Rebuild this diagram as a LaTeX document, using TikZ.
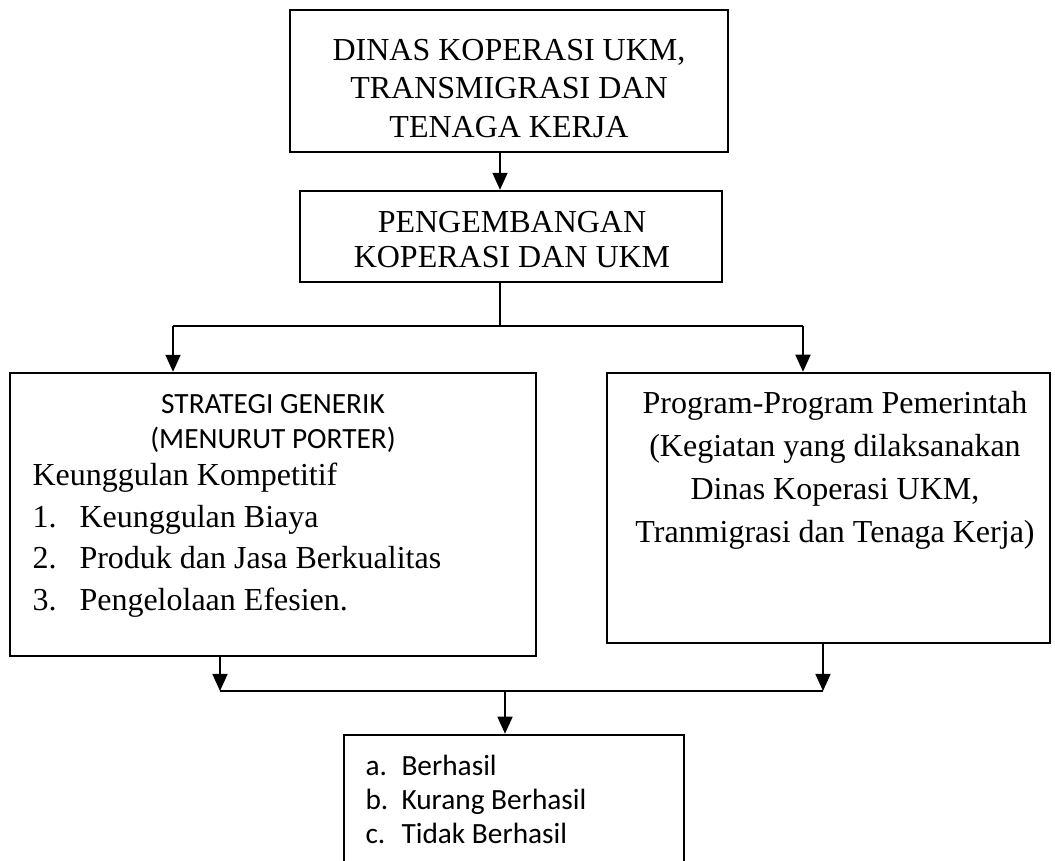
\documentclass[tikz,border=0pt]{standalone}
\usepackage{fontspec}
\setmainfont{Liberation Serif}
\newfontfamily\calibri{Carlito}
\usepackage{tikz}
\usetikzlibrary{arrows.meta}

\begin{document}
\begin{tikzpicture}[x=0.375pt,y=-0.375pt,
    kotak/.style={draw, line width=0.9pt, inner sep=0pt},
    panah/.style={line width=0.75pt, -{Triangle[length=6.4pt,width=5.6pt]}},
    garis/.style={line width=0.75pt},
    tulis/.style={inner sep=0pt, font=\fontsize{12}{14.4}\selectfont},
    tulisc/.style={inner sep=0pt, font=\calibri\fontsize{11}{13}\selectfont}]
    \useasboundingbox (0,0) rectangle (1055,861);
    \clip (0,0) rectangle (1055,861);

    % kotak-kotak
    \node[kotak, minimum width=164.25pt, minimum height=53.25pt] (dinas) at (509,81) {};
    \node[kotak, minimum width=158.25pt, minimum height=34.1pt] (kembang) at (511,236.5) {};
    \node[kotak, minimum width=197.25pt, minimum height=106.1pt] (strategi) at (273,514.5) {};
    \node[kotak, minimum width=166.1pt, minimum height=101.25pt] (program) at (828.5,508) {};
    \node[kotak, minimum width=127.5pt, minimum height=61.9pt] (hasil) at (514,817.5) {};

    % isi (base = baris terakhir)
    \node[tulis, align=center, anchor=base, font=\fontsize{12}{14.4}\selectfont] (dinasteks) at (509,137)
        {DINAS KOPERASI UKM,\\TRANSMIGRASI DAN\\TENAGA KERJA};
    \node[tulis, align=center, anchor=base, font=\fontsize{12}{13.1}\selectfont] (kembangteks) at (512,267)
        {PENGEMBANGAN\\KOPERASI DAN UKM};
    \node[tulisc, anchor=base] (judul) at (273,413) {STRATEGI GENERIK};
    \node[tulisc, anchor=base] (porter) at (273,448) {(MENURUT PORTER)};
    \node[tulis, anchor=base west] (unggul) at (32,485) {Keunggulan Kompetitif};
    \foreach \n/\t/\y in {1/Keunggulan Biaya/527, 2/Produk dan Jasa Berkualitas/568, 3/Pengelolaan Efesien./610} {
        \node[tulis, anchor=base west] (no\n) at (32,\y) {\n.};
        \node[tulis, anchor=base west] (butir\n) at (79,\y) {\t};
    }
    \node[tulis, align=center, anchor=base, font=\fontsize{12}{16.1}\selectfont] (programteks) at (835,542)
        {Program-Program Pemerintah\\(Kegiatan yang dilaksanakan\\Dinas Koperasi UKM,\\Tranmigrasi dan Tenaga Kerja)};
    \foreach \h/\t/\y in {a/Berhasil/775, b/Kurang Berhasil/809, c/Tidak Berhasil/843} {
        \node[tulisc, anchor=base west] (huruf\h) at (365,\y) {\h.};
        \node[tulisc, anchor=base west] (hasil\h) at (401,\y) {\t};
    }

    % panah
    \coordinate (pecah) at (500,326);
    \coordinate (kiri) at (173,326);
    \coordinate (kanan) at (803,326);
    \coordinate (gabung) at (505,691);
    \coordinate (kirib) at (220,691);
    \coordinate (kananb) at (823,691);
    \draw[panah] (dinas.south -| pecah) -- (kembang.north -| pecah);
    \draw[garis] (kembang.south -| pecah) -- (pecah);
    \draw[garis] (kiri) -- (kanan);
    \draw[panah] (kiri) -- (kiri |- strategi.north);
    \draw[panah] (kanan) -- (kanan |- program.north);
    \draw[panah] (kirib |- strategi.south) -- (kirib);
    \draw[panah] (kananb |- program.south) -- (kananb);
    \draw[garis] (kirib) -- (kananb);
    \draw[panah] (gabung) -- (gabung |- hasil.north);
\end{tikzpicture}
\end{document}
